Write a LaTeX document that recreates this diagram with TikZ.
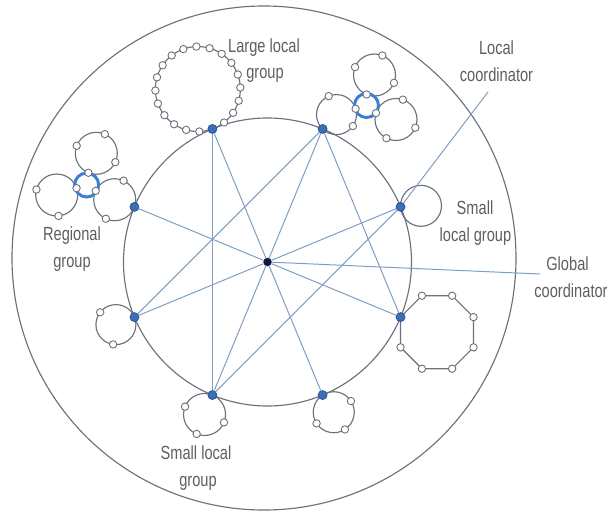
\documentclass[tikz,border=0pt]{standalone}
\usepackage{fontspec}
\newfontfamily\lblfont[FakeStretch=0.77]{Liberation Sans}
\usetikzlibrary{calc}
\definecolor{ringgray}{HTML}{6C727C}
\definecolor{chordblue}{HTML}{7F9FC2}
\definecolor{nodeblue}{HTML}{3A70B8}
\definecolor{nodeedge}{HTML}{24508F}
\definecolor{hubcol}{HTML}{0E1A45}
\definecolor{regblue}{HTML}{3D80D0}
\definecolor{txtgray}{HTML}{5E5E5E}
\begin{document}
\begin{tikzpicture}[x=1pt,y=-1pt,
  ring/.style={draw=ringgray, line width=1.15pt},
  chordline/.style={draw=chordblue, line width=1pt},
  coordnode/.style={circle, fill=nodeblue, draw=nodeedge, line width=0.7pt, inner sep=0pt, minimum size=9pt},
  hubnode/.style={circle, fill=hubcol, inner sep=0pt, minimum size=8.5pt},
  member/.style={circle, fill=white, draw=ringgray, line width=0.9pt, inner sep=0pt, minimum size=7.4pt},
  regring/.style={draw=regblue, line width=3pt},
  lbltext/.style={text=txtgray, font=\lblfont\fontsize{19}{23}\selectfont, inner sep=0pt, anchor=base},
]
\useasboundingbox (0,0) rectangle (608,511);
\coordinate (C) at (267.5,262);
\coordinate (O) at (264,258);
\draw[ring] (O) circle[radius=252];
\draw[ring] (C) circle[radius=144];
\foreach \i/\a in {1/-22.5,2/-67.5,3/-112.5,4/-157.5,5/157.5,6/112.5,7/67.5,8/22.5}
  \coordinate (p\i) at ($(C)+(\a:144)$);

% small local group (right)
\coordinate (g1) at ($(p1)+(-3:20.5)$);
\draw[ring] (g1) circle[radius=20.5];

% large local group (top)
\coordinate (g3) at ($(p3)+(250:42.5)$);
\draw[ring] (g3) circle[radius=42.5];
\foreach \k in {1,...,19} \node[member] (m3-\k) at ($(g3)+(70+18*\k:42.5)$) {};

% octagon group (right lower)
\coordinate (g8) at ($(p8)+(22.5:39.5)$);
\foreach \k in {0,...,7} \coordinate (o\k) at ($(g8)+(202.5+45*\k:39.5)$);
\draw[ring] (o0)--(o1)--(o2)--(o3)--(o4)--(o5)--(o6)--(o7)--cycle;
\foreach \k in {1,...,7} \node[member] (m8-\k) at (o\k) {};

% bottom right group
\coordinate (g7) at ($(p7)+(57:20.5)$);
\draw[ring] (g7) circle[radius=20.5];
\foreach \a [count=\k] in {-33,57,147} \node[member] (m7-\k) at ($(g7)+(\a:20.5)$) {};

% bottom left group
\coordinate (g6) at ($(p6)+(112:21)$);
\draw[ring] (g6) circle[radius=21];
\foreach \a [count=\k] in {-158,22,112} \node[member] (m6-\k) at ($(g6)+(\a:21)$) {};

% left lower group
\coordinate (g5) at ($(p5)+(158:20)$);
\draw[ring] (g5) circle[radius=20];
\foreach \a [count=\k] in {-142,98} \node[member] (m5-\k) at ($(g5)+(\a:20)$) {};

% regional group (top right)
\coordinate (ra) at ($(p2)+(-46:20)$);
\coordinate (rc) at (366.5,105.5);
\coordinate (rt) at (374.5,75);
\coordinate (rr) at (396,119.5);
\draw[ring] (ra) circle[radius=20];
\draw[ring] (rt) circle[radius=21];
\draw[ring] (rr) circle[radius=21];
\draw[regring] (rc) circle[radius=12];
\foreach \a [count=\k] in {-113,-17,35} \node[member] (ma-\k) at ($(ra)+(\a:20)$) {};
\foreach \a [count=\k] in {-158,-68,22,112} \node[member] (mt-\k) at ($(rt)+(\a:21)$) {};
\foreach \a [count=\k] in {-162,-71,23,117} \node[member] (mr-\k) at ($(rr)+(\a:21)$) {};

% regional group (left)
\coordinate (la) at ($(p4)+(200:21)$);
\coordinate (lc) at (86.7,185);
\coordinate (ll) at (56.7,195);
\coordinate (lt) at (96.3,153.3);
\draw[ring] (la) circle[radius=21];
\draw[ring] (ll) circle[radius=21];
\draw[ring] (lt) circle[radius=21];
\draw[regring] (lc) circle[radius=12];
\foreach \a [count=\k] in {-155,-65,115} \node[member] (mla-\k) at ($(la)+(\a:21)$) {};
\foreach \a [count=\k] in {-165,-19,85} \node[member] (mll-\k) at ($(ll)+(\a:21)$) {};
\foreach \a [count=\k] in {-159,-66,25,112} \node[member] (mlt-\k) at ($(lt)+(\a:21)$) {};

% coordinators
\foreach \i in {1,...,8} \node[coordnode] (n\i) at (p\i) {};
\node[hubnode] (hub) at (C) {};

% connectors
\foreach \a/\b in {n1/hub,n2/hub,n3/hub,n4/hub,n5/hub,n6/hub,n7/hub,n8/hub,n3/n6,n2/n5,n2/n8,n6/n1}
  \draw[chordline] (\a) -- (\b);
\coordinate (lcend) at (488,92);
\coordinate (gcend) at (540,274);
\draw[chordline] (n1) -- (lcend);
\draw[chordline] (hub) -- (gcend);

% labels
\node[lbltext] (t1a) at (264,52.7) {Large local};
\node[lbltext] (t1b) at (265,79) {group};
\node[lbltext] (t2a) at (496.5,55) {Local};
\node[lbltext] (t2b) at (496.5,81.7) {coordinator};
\node[lbltext] (t3a) at (475,214.3) {Small};
\node[lbltext] (t3b) at (475.5,241.7) {local group};
\node[lbltext] (t4a) at (567.5,270) {Global};
\node[lbltext] (t4b) at (571,297.7) {coordinator};
\node[lbltext] (t5a) at (72,240.7) {Regional};
\node[lbltext] (t5b) at (72,267.7) {group};
\node[lbltext] (t6a) at (196,459) {Small local};
\node[lbltext] (t6b) at (198,486.5) {group};
\end{tikzpicture}
\end{document}
